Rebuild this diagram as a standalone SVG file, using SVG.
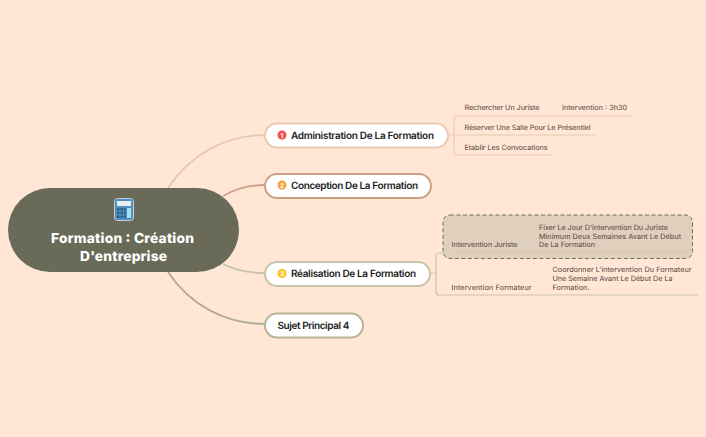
<svg xmlns="http://www.w3.org/2000/svg" width="706" height="437" viewBox="0 0 706 437">
<style>
text{font-family:"Inter","Liberation Sans",sans-serif;text-rendering:geometricPrecision}
.c{fill:none;stroke-width:1.8}
.t{fill:#fff;stroke-width:2}
.m{font-size:10px;font-weight:600;fill:#1c1c1c}
.s{font-size:7.200px;font-weight:400;fill:#54443a}
.b{font-size:6.500px;font-weight:700;fill:#fff;text-anchor:middle}
.r{font-size:13.800px;font-weight:800;fill:#fff;text-anchor:middle}
</style>
<rect width="706" height="437" fill="#ffe6d5"/>
<g id="connectors">
<path class="c" stroke="#e6c8b4" d="M168 188C190 155 225 135 265 135"/>
<path class="c" stroke="#cf9f85" d="M223 196C235 189 250 185 265 185"/>
<path class="c" stroke="#c8c4ab" d="M223 264C235 270 250 273 265 273"/>
<path class="c" stroke="#aeac93" d="M168 272C190 305 225 324 265 324"/>
<g fill="none" stroke-width="1.200">
<path stroke="#ecc9b2" d="M448 135H454M454 135V119Q454 116 457 116H631M454 135H595M454 135V152Q454 155 457 155H552"/>
<path stroke="#c9c6ad" d="M430 273H436M436 273V256Q436 253 439 253H687M436 273V292Q436 295 439 295H698"/>
</g>
</g>
<g id="root">
<rect x="8" y="188" width="231" height="84" rx="42" fill="#696b58"/>
<rect x="114.500" y="198.500" width="19" height="22" rx="3" fill="#4d8fc0" stroke="#c5cfd4"/>
<rect x="117" y="201" width="14" height="5" fill="#e8eef2"/>
<path d="M117 208h2.500v2.500h-2.500zM120.500 208h2.500v2.500h-2.500zM124 208h2v2.500h-2zM117 211.700h2.500v2.500h-2.500zM120.500 211.700h2.500v2.500h-2.500zM124 211.700h2v2.500h-2zM117 215.400h2.500v2.500h-2.500zM120.500 215.400h2.500v2.500h-2.500zM124 215.400h2v2.500h-2z" fill="#2f5f88"/>
<rect x="127" y="208" width="4" height="10" fill="#a6e1ea"/>
<text class="r" x="122.500" y="243" textLength="143">Formation : Création</text>
<text class="r" x="123.500" y="261" textLength="87">D'entreprise</text>
</g>
<g id="node1">
<rect class="t" x="265" y="123.500" width="183" height="24" rx="12" stroke="#ecc9b2"/>
<circle cx="282" cy="135" r="4.500" fill="#f0504f"/><text class="b" x="282" y="137.500">1</text>
<text class="m" x="291" y="138.500" textLength="143">Administration De La Formation</text>
</g>
<g id="node2">
<rect class="t" x="265" y="174" width="166" height="24" rx="12" stroke="#cf9f85"/>
<circle cx="282" cy="185" r="4.500" fill="#f9a13f"/><text class="b" x="282" y="187.500">2</text>
<text class="m" x="291" y="188.500" textLength="127">Conception De La Formation</text>
</g>
<g id="node3">
<rect class="t" x="265" y="262" width="165" height="24" rx="12" stroke="#c8c4ab"/>
<circle cx="282" cy="273.500" r="4.500" fill="#fbc21f"/><text class="b" x="282" y="276">3</text>
<text class="m" x="291" y="277" textLength="125">Réalisation De La Formation</text>
</g>
<g id="node4">
<rect class="t" x="265" y="313.500" width="98" height="24" rx="12" stroke="#b5b39a"/>
<text class="m" x="277.500" y="328.500" textLength="72">Sujet Principal 4</text>
</g>
<g id="leaf1"><text class="s" x="464.500" y="110" textLength="75">Rechercher Un Juriste</text><text class="s" x="562" y="110" textLength="65">Intervention : 3h30</text></g>
<g id="leaf2"><text class="s" x="464.500" y="130" textLength="126">Réserver Une Salle Pour Le Présentiel</text></g>
<g id="leaf3"><text class="s" x="464.500" y="150" textLength="83">Etablir Les Convocations</text></g>
<g id="leaf4">
<rect x="443" y="215" width="249.500" height="43.500" rx="7" fill="#e0cfbc" stroke="#6d6f5c" stroke-dasharray="4 2.500"/>
<path d="M452 252.500H687" stroke="#d4c5b0" fill="none"/>
<text class="s" x="451.500" y="247" textLength="66">Intervention Juriste</text>
<text class="s" x="539" y="229.500" textLength="129">Fixer Le Jour D'intervention Du Juriste</text>
<text class="s" x="539" y="238.500" textLength="142">Minimum Deux Semaines Avant Le Début</text>
<text class="s" x="539" y="247" textLength="56">De La Formation</text>
</g>
<g id="leaf5">
<text class="s" x="451.500" y="290" textLength="80">Intervention Formateur</text>
<text class="s" x="552.500" y="272" textLength="139">Coordonner L'intervention Du Formateur</text>
<text class="s" x="552.500" y="281" textLength="120">Une Semaine Avant Le Début De La</text>
<text class="s" x="552.500" y="290" textLength="37">Formation.</text>
</g>
</svg>
